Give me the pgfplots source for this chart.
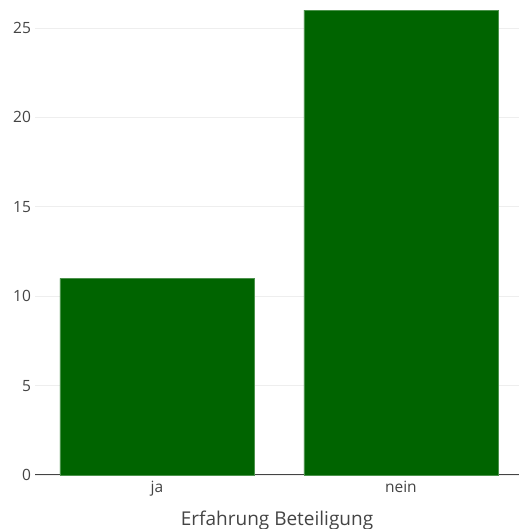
\documentclass[border=0pt]{standalone}
\usepackage{pgfplots}
\pgfplotsset{compat=1.18}
\usepackage{fontspec}
\setmainfont{Open Sans}
\definecolor{tickgray}{HTML}{444444}
\definecolor{gridgray}{HTML}{EEEEEE}
\definecolor{bargreen}{HTML}{006400}
\begin{document}
\begin{tikzpicture}[x=1pt,y=1pt]
\begin{axis}[
  scale only axis,
  width=484pt, height=475pt,
  xmin=-0.5, xmax=1.484,
  ymin=0, ymax=26.57,
  ybar, bar width=194pt, bar shift=0pt,
  xtick={0,1}, xticklabels={ja,nein},
  ytick={0,5,10,15,20,25},
  ymajorgrids, major grid style={gridgray, line width=0.8pt},
  axis x line*=bottom, axis y line*=left,
  x axis line style={tickgray, line width=1pt, -},
  y axis line style={draw=none},
  major tick length=0pt,
  tick style={draw=none},
  ticklabel style={font=\fontsize{15.5}{17}\selectfont, text=tickgray},
  /pgf/number format/assume math mode=true,
  yticklabel style={anchor=east, xshift=-0.5pt},
  xticklabel style={anchor=base, yshift=-17pt},
  xlabel={Erfahrung Beteiligung},
  xlabel style={font=\fontsize{19}{21}\selectfont, text=tickgray, anchor=base, at={(rel axis cs:0.5,0)}, yshift=-50pt},
  clip=false,
]
\coordinate (O) at (rel axis cs:0,0);
\addplot[fill=bargreen, draw=bargreen!70!white, line width=0.5pt] coordinates {(0,11) (1,26)};
\end{axis}
\pgfresetboundingbox
\path[use as bounding box] (O) ++(-35pt,-54pt) rectangle ++(519pt,529pt);
\end{tikzpicture}
\end{document}
